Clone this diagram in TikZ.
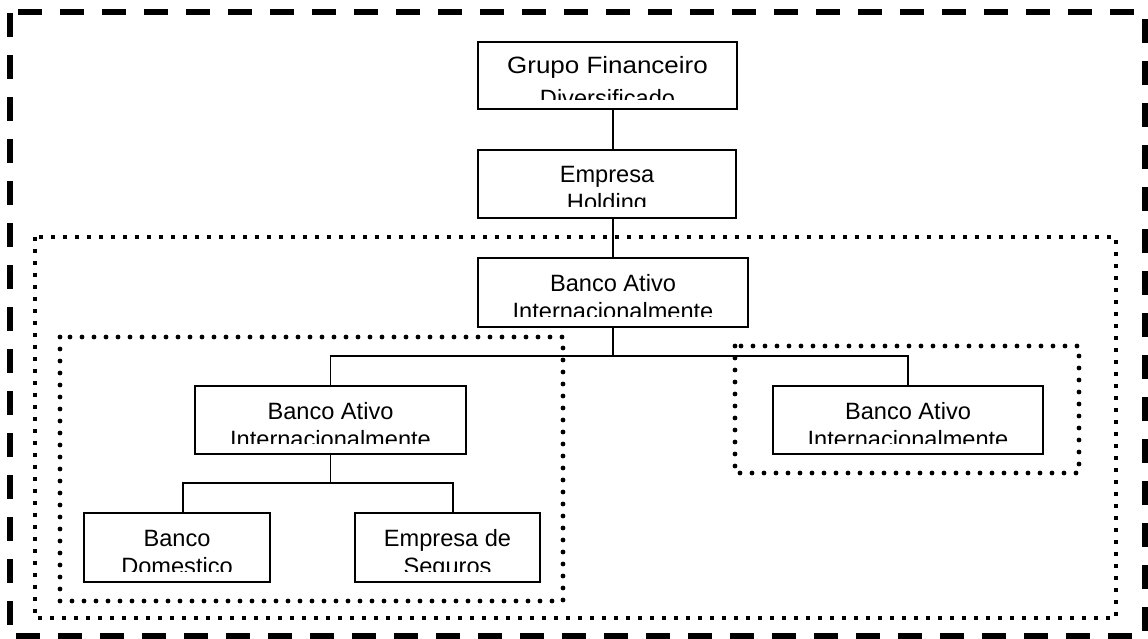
\documentclass[tikz,border=0pt]{standalone}
\usepackage{fontspec}
\setmainfont{Liberation Sans}
\usepackage{graphicx}
\tikzset{
  boxnode/.style={draw=black, line width=1.8pt, fill=white, inner sep=0pt, outer sep=0pt},
  txt/.style={anchor=base, inner sep=0pt, outer sep=0pt, font=\fontsize{23.6}{27}\selectfont},
  conn/.style={draw=black, line width=1.8pt},
  outerdash/.style={draw=black, line width=6pt, dash pattern=on 24pt off 18pt, line cap=butt},
  sqdots/.style={draw=black, line width=4pt, dash pattern=on 4pt off 8pt, line cap=butt},
  rdots/.style={draw=black, line width=4.8pt, line cap=round, dash pattern=on 0pt off 12pt},
}
% offsets of the two text lines from the box top, and gap of the text clip above the bottom
\newcommand{\offA}{33}
\newcommand{\offB}{61}
\newcommand{\clipgap}{11}
% name, left, top, right, bottom, line 1, line 2
\newcommand{\orgbox}[7]{%
  \node[boxnode, minimum width={#4-#2}, minimum height={#5-#3}] (#1) at ({(#2+#4)/2},{(#3+#5)/2}) {};
  \begin{scope}
    \clip ({#2},{#3}) rectangle ({#4},{#5-\clipgap});
    \node[txt] (#1-a) at ({(#2+#4)/2},{#3+\offA}) {#6};
    \node[txt] (#1-b) at ({(#2+#4)/2},{#3+\offB}) {#7};
  \end{scope}}
\begin{document}
\begin{tikzpicture}[x=1pt,y=-1pt]
\useasboundingbox (0,0) rectangle (1148,639);
\fill[white] (0,0) rectangle (1148,639);
% outer dashed frame
\draw[outerdash] (10,13) -- (10,639);
\draw[outerdash] (18,12) -- (1148,12);
\draw[outerdash] (1145,19) -- (1145,639);
\draw[outerdash] (16,636) -- (1148,636);
% dotted groups
\draw[sqdots] (35,237) rectangle (1116,618);
\draw[rdots] (60,337) rectangle (563,601);
\draw[rdots] (735,346) rectangle (1079,473);
% boxes
\begingroup
\renewcommand{\offA}{32}\renewcommand{\offB}{65}\renewcommand{\clipgap}{9}
\orgbox{b1}{478}{42}{737}{109}{\scalebox{1.1}[1]{Grupo Financeiro}}{Diversificado}
\endgroup
\orgbox{b2}{478}{150}{736}{218}{Empresa}{Holding}
\orgbox{b3}{478}{258}{748}{327}{Banco Ativo}{Internacionalmente}
\orgbox{b4}{195}{386}{466}{454}{Banco Ativo}{Internacionalmente}
\orgbox{b5}{773}{386}{1043}{454}{Banco Ativo}{Internacionalmente}
\orgbox{b6}{84}{513}{270}{582}{Banco}{Domestico}
\orgbox{b7}{355}{513}{540}{582}{Empresa de}{Seguros}
% connectors
\coordinate (j1) at (613,356);
\coordinate (k6) at (183,483);
\coordinate (k7) at (453,483);
\draw[conn] (b1.south -| j1) -- (b2.north -| j1);
\draw[conn] (b2.south -| j1) -- (b3.north -| j1);
\draw[conn] (b3.south -| j1) -- (j1);
\draw[conn] (b4.north) -- (b4.north |- j1) -- (b5.north |- j1) -- (b5.north);
\draw[conn] (b4.south) -- (b4.south |- k6);
\draw[conn] (b6.north -| k6) -- (k6) -- (k7) -- (b7.north -| k7);
\end{tikzpicture}
\end{document}
